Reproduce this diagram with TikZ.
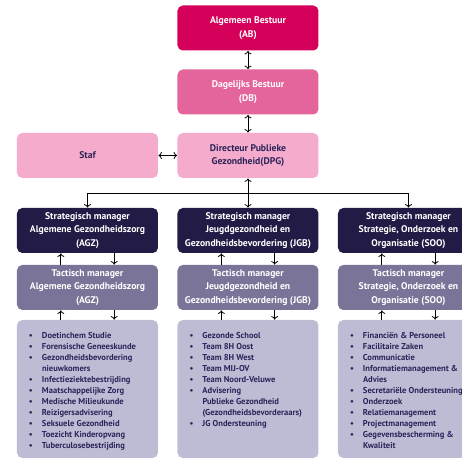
\documentclass[tikz,border=0pt]{standalone}
\usepackage{fontspec}
\setmainfont{PT Sans}
\usetikzlibrary{arrows.meta}
\definecolor{abcol}{HTML}{D4005A}
\definecolor{dbcol}{HTML}{E4649C}
\definecolor{dpgcol}{HTML}{F5ABCB}
\definecolor{smcol}{HTML}{221B45}
\definecolor{tmcol}{HTML}{7B7499}
\definecolor{lstcol}{HTML}{BEBCD5}
\definecolor{navy}{HTML}{2B2459}

\begin{document}
\begin{tikzpicture}[x=0.75pt,y=-0.75pt, >={To[length=2.6pt,width=5.2pt]}, line width=0.6pt]
  \tikzstyle{box}=[rectangle, rounded corners=4pt, minimum width=105.75pt, minimum height=33.75pt, align=center, inner sep=0pt, font=\bfseries\fontsize{7.25}{10}\selectfont]
  \tikzstyle{listbox}=[box, fill=lstcol, minimum height=103.5pt]
  \tikzstyle{listtxt}=[anchor=north west, inner sep=0pt, text=navy, font=\bfseries\fontsize{6.4}{8.25}\selectfont]

  \useasboundingbox (0,0) rectangle (462,460);
  \clip (0,0) rectangle (462,460);

  \node[box, fill=abcol, text=white] (AB) at (248, 28) {Algemeen Bestuur\\(AB)};

  \node[box, fill=dbcol, text=white] (DB) at (248, 92) {Dagelijks Bestuur\\(DB)};

  \node[box, fill=dpgcol, text=navy] (Staf) at (87.5, 155.5) {Staf};

  \node[box, fill=dpgcol, text=navy] (DPG) at (248, 155.5) {Directeur Publieke\\Gezondheid(DPG)};

  \node[box, fill=smcol, text=white] (SAGZ) at (87.5, 230.5) {Strategisch manager\\Algemene Gezondheidszorg\\(AGZ)};
  \node[box, fill=smcol, text=white] (SJGB) at (248, 230.5) {Strategisch manager\\Jeugdgezondheid en\\Gezondheidsbevordering (JGB)};
  \node[box, fill=smcol, text=white] (SSOO) at (408.5, 230.5) {Strategisch manager\\Strategie, Onderzoek en\\Organisatie (SOO)};

  \node[box, fill=tmcol, text=white] (TAGZ) at (87.5, 287.5) {Tactisch manager\\Algemene Gezondheidszorg\\(AGZ)};
  \node[box, fill=tmcol, text=white] (TJGB) at (248, 287.5) {Tactisch manager\\Jeugdgezondheid en\\Gezondheidsbevordering (JGB)};
  \node[box, fill=tmcol, text=white] (TSOO) at (408.5, 287.5) {Tactisch manager\\Strategie, Onderzoek en\\Organisatie (SOO)};

  \node[listbox] (LAGZ) at (87.5, 389) {};
  \node[listbox] (LJGB) at (248, 389) {};
  \node[listbox] (LSOO) at (408.5, 389) {};

  \node[listtxt] (LAGZtxt) at ([xshift=9pt, yshift=-8pt]LAGZ.north west) {%
    \begin{tabular}{@{}p{9.75pt}@{}l@{}}
    \textbullet & Doetinchem Studie\\
    \textbullet & Forensische Geneeskunde\\
    \textbullet & Gezondheidsbevordering\\
                & nieuwkomers\\
    \textbullet & Infectieziektebestrijding\\
    \textbullet & Maatschappelijke Zorg\\
    \textbullet & Medische Milieukunde\\
    \textbullet & Reizigersadvisering\\
    \textbullet & Seksuele Gezondheid\\
    \textbullet & Toezicht Kinderopvang\\
    \textbullet & Tuberculosebestrijding
    \end{tabular}};

  \node[listtxt] (LJGBtxt) at ([xshift=9pt, yshift=-8pt]LJGB.north west) {%
    \begin{tabular}{@{}p{9.75pt}@{}l@{}}
    \textbullet & Gezonde School\\
    \textbullet & Team 8H Oost\\
    \textbullet & Team 8H West\\
    \textbullet & Team MIJ-OV\\
    \textbullet & Team Noord-Veluwe\\
    \textbullet & Advisering\\
                & Publieke Gezondheid\\
                & (Gezondheidsbevorderaars)\\
    \textbullet & JG Ondersteuning
    \end{tabular}};

  \node[listtxt] (LSOOtxt) at ([xshift=9pt, yshift=-8pt]LSOO.north west) {%
    \begin{tabular}{@{}p{9.75pt}@{}l@{}}
    \textbullet & Financiën \& Personeel\\
    \textbullet & Facilitaire Zaken\\
    \textbullet & Communicatie\\
    \textbullet & Informatiemanagement \&\\
                & Advies\\
    \textbullet & Secretariële Ondersteuning\\
    \textbullet & Onderzoek\\
    \textbullet & Relatiemanagement\\
    \textbullet & Projectmanagement\\
    \textbullet & Gegevensbescherming \&\\
                & Kwaliteit
    \end{tabular}};

  \coordinate (busL) at (87.5, 193);
  \coordinate (busR) at (408.5, 193);

  \draw[<->] (AB) -- (DB);
  \draw[<->] (DB) -- (DPG);
  \draw[<->] (Staf) -- (DPG);
  \draw[<->] (DPG) -- (SJGB);

  \draw (busL) -- (busR);
  \draw[->] (busL) -- (SAGZ);
  \draw[->] (busR) -- (SSOO);

  \draw[->] ([xshift=-20pt]TAGZ.north) -- ([xshift=-20pt]SAGZ.south);
  \draw[->] ([xshift=20pt]SAGZ.south) -- ([xshift=20pt]TAGZ.north);
  \draw[->] ([xshift=-20pt]TJGB.north) -- ([xshift=-20pt]SJGB.south);
  \draw[->] ([xshift=20pt]SJGB.south) -- ([xshift=20pt]TJGB.north);
  \draw[->] ([xshift=-20pt]TSOO.north) -- ([xshift=-20pt]SSOO.south);
  \draw[->] ([xshift=20pt]SSOO.south) -- ([xshift=20pt]TSOO.north);

  \draw[->] ([xshift=-20pt]LAGZ.north) -- ([xshift=-20pt]TAGZ.south);
  \draw[->] ([xshift=20pt]TAGZ.south) -- ([xshift=20pt]LAGZ.north);
  \draw[->] ([xshift=-20pt]LJGB.north) -- ([xshift=-20pt]TJGB.south);
  \draw[->] ([xshift=20pt]TJGB.south) -- ([xshift=20pt]LJGB.north);
  \draw[->] ([xshift=-20pt]LSOO.north) -- ([xshift=-20pt]TSOO.south);
  \draw[->] ([xshift=20pt]TSOO.south) -- ([xshift=20pt]LSOO.north);

\end{tikzpicture}
\end{document}
